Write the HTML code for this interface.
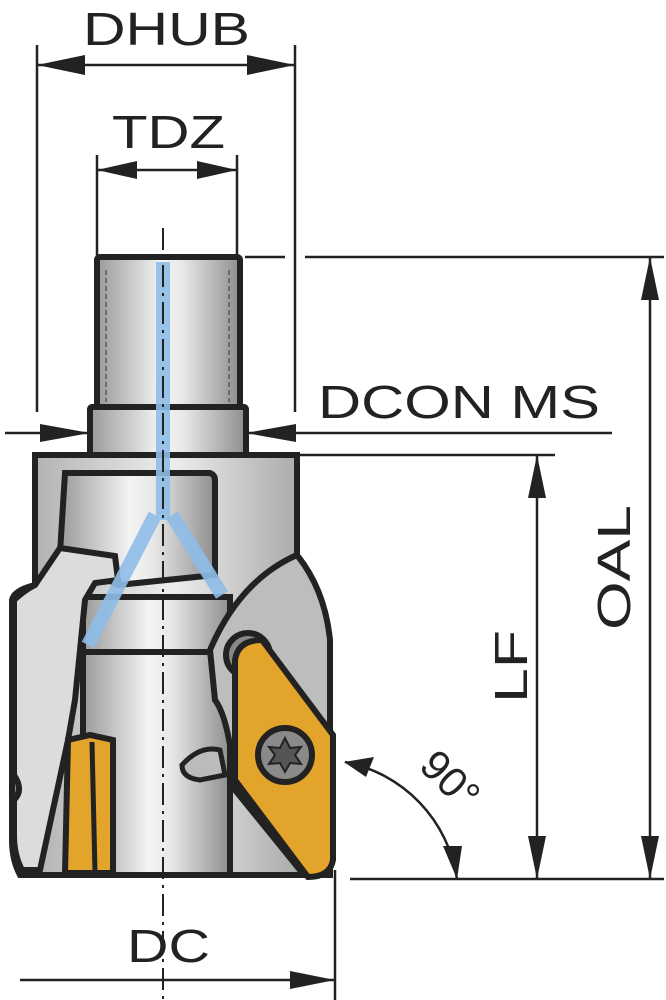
<!DOCTYPE html>
<html><head><meta charset="utf-8"><style>
html,body{margin:0;padding:0;background:#fff;}
svg{display:block;}
text{font-family:"Liberation Sans",sans-serif;fill:#222;}
</style></head><body>
<svg width="666" height="1000" viewBox="0 0 666 1000" xmlns="http://www.w3.org/2000/svg">
<defs>
<linearGradient id="g" x1="0" x2="1" y1="0" y2="0">
<stop offset="0" stop-color="#9a9a9a"/><stop offset="0.45" stop-color="#f4f4f4"/><stop offset="0.6" stop-color="#e8e8e8"/><stop offset="1" stop-color="#8e8e8e"/>
</linearGradient>
<linearGradient id="g2" x1="0" x2="1" y1="0" y2="0">
<stop offset="0" stop-color="#a8a8a8"/><stop offset="0.5" stop-color="#eeeeee"/><stop offset="1" stop-color="#9a9a9a"/>
</linearGradient>
</defs>
<g stroke="#222" stroke-width="2.5" fill="none">
<line x1="37" y1="45" x2="37" y2="412"/><line x1="295" y1="45" x2="295" y2="412"/>
<line x1="37" y1="65" x2="295" y2="65"/>
<line x1="97" y1="155" x2="97" y2="262"/><line x1="237" y1="155" x2="237" y2="262"/>
<line x1="97" y1="170" x2="237" y2="170"/>
<line x1="5" y1="433" x2="90" y2="433"/><line x1="246" y1="433" x2="612" y2="433"/>
<line x1="245" y1="257" x2="285" y2="257"/><line x1="305" y1="257" x2="664" y2="257"/>
<line x1="650" y1="257" x2="650" y2="879"/>
<line x1="350" y1="879" x2="664" y2="879"/>
<line x1="298" y1="455" x2="555" y2="455"/>
<line x1="537" y1="455" x2="537" y2="879"/>
<line x1="335" y1="870" x2="335" y2="1000"/>
<line x1="20" y1="980" x2="335" y2="980"/>
<path d="M345 762 A140 140 0 0 1 457 879"/>
</g>
<g fill="#222">
<polygon points="37,65 85,55 85,75"/><polygon points="295,65 247,55 247,75"/>
<polygon points="97,170 137,161 137,179"/><polygon points="237,170 197,161 197,179"/>
<polygon points="90,433 40,424 40,442"/><polygon points="246,433 296,424 296,442"/>
<polygon points="650,257 641,300 659,300"/><polygon points="650,879 641,836 659,836"/>
<polygon points="537,455 528,498 546,498"/><polygon points="537,879 528,836 546,836"/>
<polygon points="335,980 290,971 290,989"/>
<polygon points="344,762 374,757 366,777"/><polygon points="457,879 443,846 462,846"/>
</g>
<rect x="97" y="257" width="143" height="150" fill="url(#g)" stroke="#222" stroke-width="6" rx="3"/>
<line x1="106" y1="270" x2="106" y2="402" stroke="#333" stroke-dasharray="5,3"/>
<line x1="229" y1="270" x2="229" y2="402" stroke="#333" stroke-dasharray="5,3"/>
<rect x="90" y="407" width="156" height="50" fill="url(#g)" stroke="#222" stroke-width="6" rx="2"/>
<path d="M35 455 L297 455 L297 560 Q320 600 328 640 L330 700 L330 875 L20 875 Q12 860 12 840 L12 600 Q14 590 35 585 Z" fill="url(#g2)" stroke="#222" stroke-width="6"/>
<rect x="83" y="597" width="147" height="278" fill="url(#g)" stroke="#222" stroke-width="6"/>
<line x1="83" y1="652" x2="230" y2="652" stroke="#222" stroke-width="6"/>
<path d="M65 473 L210 473 Q215 475 215 480 L215 575 L118 585 L60 553 Z" fill="url(#g)" stroke="#222" stroke-width="6"/>
<path d="M60 548 L115 556 L118 580 L95 583 L85 600 L75 700 L68 740 L40 870 L22 870 Q14 855 14 835 L14 800 Q24 790 14 775 L14 600 Q25 590 35 585 Z" fill="#dcdcdc" stroke="#222" stroke-width="6"/>
<g stroke="#8fbde8" stroke-width="14" fill="none" opacity="0.9">
<line x1="163" y1="262" x2="163" y2="520"/>
<path d="M155 515 L88 645"/><path d="M172 515 L222 595"/>
</g>
<path d="M297 555 Q325 590 330 640 L330 870 L300 870 L235 790 Q230 720 215 700 L210 650 Q240 580 297 555 Z" fill="#bdbdbd" stroke="#222" stroke-width="6"/>
<path d="M182 765 Q200 745 220 750 L225 775 L200 780 Q182 778 182 765 Z" fill="#bbb" stroke="#222" stroke-width="5"/>
<path d="M68 740 L90 735 L113 740 L113 873 L65 873 Z" fill="#e3a42b" stroke="#222" stroke-width="6"/>
<line x1="92" y1="742" x2="95" y2="873" stroke="#222" stroke-width="5"/>
<circle cx="248" cy="655" r="22" fill="#888" stroke="#222" stroke-width="6"/>
<path d="M235 660 Q238 640 262 640 L333 735 L333 860 Q330 877 308 877 L235 780 Z" fill="#e3a42b" stroke="#222" stroke-width="6"/>
<circle cx="285" cy="755" r="27" fill="#8a8a8a" stroke="#222" stroke-width="6"/>
<polygon points="285,738 290,748 301,747 295,755 301,764 290,763 285,772 280,763 269,764 275,755 269,747 280,748" fill="#555" stroke="#222" stroke-width="2"/>
<line x1="163" y1="228" x2="163" y2="1000" stroke="#222" stroke-width="2" stroke-dasharray="22,6,3,6"/>
<text x="83" y="45" font-size="46" textLength="167" lengthAdjust="spacingAndGlyphs">DHUB</text>
<text x="112" y="148" font-size="46" textLength="113" lengthAdjust="spacingAndGlyphs">TDZ</text>
<text x="318" y="418" font-size="46" textLength="282" lengthAdjust="spacingAndGlyphs">DCON MS</text>
<text x="127" y="962" font-size="46" textLength="83" lengthAdjust="spacingAndGlyphs">DC</text>
<text transform="translate(630,630) rotate(-90)" font-size="46" textLength="125" lengthAdjust="spacingAndGlyphs">OAL</text>
<text transform="translate(527,703) rotate(-90)" font-size="46" textLength="73" lengthAdjust="spacingAndGlyphs">LF</text>
<text transform="translate(440,790) rotate(45)" font-size="42" text-anchor="middle">90°</text>
</svg>
</body></html>
